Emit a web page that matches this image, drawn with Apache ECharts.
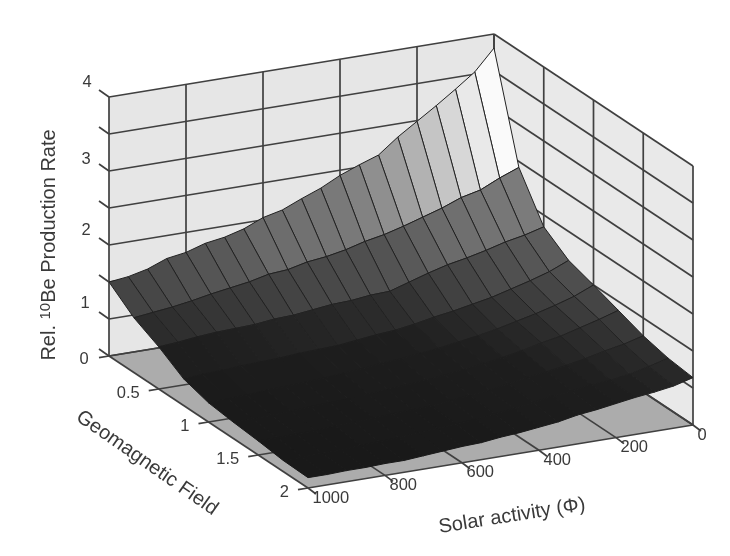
<!DOCTYPE html>
<html><head><meta charset="utf-8">
<style>html,body{margin:0;padding:0;background:#fff}#c{width:730px;height:556px;filter:blur(0.5px)}</style>
<script src="https://cdn.jsdelivr.net/npm/echarts@6/dist/echarts.min.js"></script>
</head><body><div id="c"></div>
<script>
// Solar activity, from the back wall (0) to the front (1000)
const phiMesh = [0,50,100,150,200,250,300,350,400,450,500,550,600,650,700,750,800,850,900,950,1000];
// Geomagnetic field, from the back wall (0) to the front (2)
const fieldMesh = [0,0.25,0.5,0.75,1,1.25,1.5,1.75,2];
// Surface values, one list per field value, listed from Phi = 1000 down to Phi = 0
const rateAtField0    = [1.50,1.53,1.59,1.69,1.73,1.81,1.85,1.92,2.03,2.09,2.20,2.30,2.43,2.53,2.62,2.82,2.99,3.16,3.34,3.53,3.81];
const rateAtField025  = [1.24,1.27,1.30,1.34,1.39,1.43,1.47,1.53,1.55,1.61,1.64,1.69,1.76,1.81,1.88,1.96,2.04,2.14,2.20,2.32,2.42];
const rateAtField05   = [1.07,1.09,1.12,1.14,1.15,1.16,1.19,1.20,1.23,1.26,1.27,1.30,1.31,1.39,1.47,1.54,1.59,1.65,1.72,1.77,1.84];
const rateAtField075  = [0.86,0.88,0.89,0.91,0.92,0.93,0.95,0.96,0.97,1.00,1.03,1.05,1.09,1.14,1.18,1.23,1.28,1.35,1.42,1.50,1.61];
const rateAtField1    = [0.76,0.77,0.78,0.80,0.81,0.82,0.84,0.86,0.88,0.91,0.93,0.96,0.99,1.03,1.07,1.12,1.18,1.24,1.31,1.39,1.50];
const rateAtField125  = [0.72,0.72,0.73,0.74,0.76,0.77,0.78,0.80,0.82,0.84,0.86,0.89,0.92,0.96,1.00,1.05,1.11,1.16,1.23,1.30,1.38];
const rateAtField15   = [0.69,0.69,0.70,0.70,0.72,0.73,0.74,0.76,0.77,0.78,0.81,0.84,0.86,0.91,0.95,0.99,1.03,1.08,1.14,1.19,1.26];
const rateAtField175  = [0.65,0.65,0.66,0.66,0.68,0.69,0.70,0.73,0.74,0.76,0.78,0.81,0.84,0.88,0.92,0.95,0.99,1.01,1.05,1.11,1.18];
const rateAtField2    = [0.64,0.64,0.65,0.65,0.66,0.66,0.68,0.70,0.72,0.73,0.76,0.78,0.81,0.84,0.89,0.92,0.96,1.00,1.03,1.07,1.14];
const rateRows = [rateAtField0,rateAtField025,rateAtField05,rateAtField075,rateAtField1,rateAtField125,rateAtField15,rateAtField175,rateAtField2];
// Ticks
const phiTicks = [0,200,400,600,800,1000];
const phiTickLabels = ['0','200','400','600','800','1000'];
const fieldTicks = [0,0.5,1,1.5,2];
const fieldTickLabels = ['','0.5','1','1.5','2'];
const rateTicks = [0.5,1,1.5,2,2.5,3,3.5,4];
const rateLabelTexts = ['0','1','2','3','4'];
const titlePhi = 'Solar activity (\u03A6)';
const titleField = 'Geomagnetic Field';

// Oblique view of the box
const view = {A:[109,356],B:[308,488],C:[693,425],height:259};
const FONT = '"Liberation Sans",Arial,sans-serif';
const nm = echarts.number;
function proj(phi,g,z){
  const fp = nm.linearMap(phi,[1000,0],[0,1]);
  const fg = nm.linearMap(g,[0,2],[0,1]);
  const fz = nm.linearMap(z,[0.5,4],[0,1]);
  return [
    view.A[0]+fp*(view.C[0]-view.B[0])+fg*(view.B[0]-view.A[0]),
    view.A[1]+fp*(view.C[1]-view.B[1])+fg*(view.B[1]-view.A[1])-fz*view.height
  ];
}
// Grey ramp by mean height of a cell
const grayZ = [0.6,1.0,1.17,1.38,1.68,1.76,2.1,2.2,2.4,2.6,2.8,3.0];
const grayV = [0x18,0x1e,0x2c,0x44,0x5c,0x6a,0x7c,0x8e,0xaa,0xc8,0xe4,0xfa];
function gray(z){
  let i=0; while(i<grayZ.length-2 && z>grayZ[i+1]) i++;
  const v=Math.round(nm.linearMap(z,[grayZ[i],grayZ[i+1]],[grayV[i],grayV[i+1]],true));
  return 'rgb('+v+','+v+','+v+')';
}
const rate=(gi,pi)=>rateRows[gi][rateRows[gi].length-1-pi]; // pi indexes phiMesh

// Cells, back to front
const cells=[];
for(let gi=0;gi<fieldMesh.length-1;gi++) for(let pi=0;pi<phiMesh.length-1;pi++) cells.push([gi,pi]);

// Box: polygons and lines
const zMin=rateTicks[0], zMax=rateTicks[rateTicks.length-1];
const panes=[
  {pts:[[1000,0,zMin],[0,0,zMin],[0,0,zMax],[1000,0,zMax]],fill:'#e6e6e6'},
  {pts:[[0,0,zMin],[0,2,zMin],[0,2,zMax],[0,0,zMax]],fill:'#e9e9e9'},
  {pts:[[1000,0,zMin],[0,0,zMin],[0,2,zMin],[1000,2,zMin]],fill:'#acacac'}
];
const lines=[];
phiTicks.forEach(p=>{
  lines.push([[p,0,zMin],[p,2,zMin]]);
  lines.push([[p,0,zMin],[p,0,zMax]]);
});
fieldTicks.forEach(g=>{
  lines.push([[1000,g,zMin],[0,g,zMin]]);
  lines.push([[0,g,zMin],[0,g,zMax]]);
});
rateTicks.forEach(z=>{
  lines.push([[1000,0,z],[0,0,z]]);
  lines.push([[0,0,z],[0,2,z]]);
});

const toPix=(api,p)=>api.coord(proj(p[0],p[1],p[2]));

const texts=[];
phiTicks.forEach((p,i)=>texts.push({t:phiTickLabels[i],at:[p,2,zMin],dx:4.5,dy:10,align:'left'}));
fieldTicks.forEach((g,i)=>{ if(fieldTickLabels[i]) texts.push({t:fieldTickLabels[i],at:[1000,g,zMin],dx:-19,dy:4,align:'right'}); });
texts.push({t:rateLabelTexts[4],at:[1000,0,4],dx:-22,dy:-15,align:'center'});
texts.push({t:rateLabelTexts[3],at:[1000,0,3],dx:-23,dy:-12,align:'center'});
texts.push({t:rateLabelTexts[2],at:[1000,0,2],dx:-23,dy:-15,align:'center'});
texts.push({t:rateLabelTexts[1],at:[1000,0,1],dx:-24,dy:-16,align:'center'});
texts.push({t:rateLabelTexts[0],at:[1000,0,zMin],dx:-25,dy:3,align:'center'});

const ticks=[];
phiTicks.forEach(p=>ticks.push({at:[p,2,zMin],d:[8,6]}));
fieldTicks.forEach(g=>ticks.push({at:[1000,g,zMin],d:[-10,1.6]}));
rateTicks.forEach(z=>ticks.push({at:[1000,0,z],d:[-10,-7]}));

const option={
  animation:false,
  backgroundColor:'#ffffff',
  grid:{left:0,right:0,top:0,bottom:0},
  xAxis:{type:'value',min:0,max:730,show:false},
  yAxis:{type:'value',min:0,max:556,inverse:true,show:false},
  series:[
    {type:'custom',silent:true,clip:false,z:1,data:panes.map((_,i)=>[i]),
     renderItem:(params,api)=>{const p=panes[api.value(0)];
       return {type:'polygon',shape:{points:p.pts.map(q=>toPix(api,q))},style:{fill:p.fill,stroke:null}};}},
    {type:'custom',silent:true,clip:false,z:2,data:lines.map((_,i)=>[i]),
     renderItem:(params,api)=>{const l=lines[api.value(0)];const a=toPix(api,l[0]),b=toPix(api,l[1]);
       return {type:'line',shape:{x1:a[0],y1:a[1],x2:b[0],y2:b[1]},style:{stroke:'#404040',lineWidth:1.7}};}},
    {type:'custom',silent:true,clip:false,z:3,data:ticks.map((_,i)=>[i]),
     renderItem:(params,api)=>{const t=ticks[api.value(0)];const a=toPix(api,t.at);
       return {type:'line',shape:{x1:a[0],y1:a[1],x2:a[0]+t.d[0],y2:a[1]+t.d[1]},style:{stroke:'#404040',lineWidth:1.7}};}},
    {type:'custom',silent:true,clip:false,z:4,data:cells,
     renderItem:(params,api)=>{
       const gi=api.value(0),pi=api.value(1);
       const c=[[gi,pi],[gi,pi+1],[gi+1,pi+1],[gi+1,pi]];
       let s=0; const pts=c.map(q=>{const z=rate(q[0],q[1]);s+=z;return api.coord(proj(phiMesh[q[1]],fieldMesh[q[0]],z));});
       const mean=s/4;
       return {type:'polygon',shape:{points:pts},style:{fill:gray(mean),stroke:mean<1.05?gray(mean):'#222222',lineWidth:1}};
     }},
    {type:'custom',silent:true,clip:false,z:5,data:texts.map((_,i)=>[i]),
     renderItem:(params,api)=>{const t=texts[api.value(0)];const a=toPix(api,t.at);
       return {type:'text',x:a[0]+t.dx,y:a[1]+t.dy,style:{text:t.t,fill:'#3a3a3a',font:'16.5px '+FONT,textAlign:t.align,textVerticalAlign:'middle'}};}}
  ],
  graphic:[
    {type:'text',x:512,y:516,rotation:9*Math.PI/180,silent:true,z:6,
     style:{text:titlePhi,fill:'#3a3a3a',font:'20px '+FONT,textAlign:'center',textVerticalAlign:'middle'}},
    {type:'text',x:147,y:463,rotation:-35*Math.PI/180,silent:true,z:6,
     style:{text:titleField,fill:'#3a3a3a',font:'20px '+FONT,textAlign:'center',textVerticalAlign:'middle'}},
    {type:'text',x:49,y:245,rotation:Math.PI/2,silent:true,z:6,
     style:{fill:'#3a3a3a',textAlign:'center',textVerticalAlign:'middle',font:'20px '+FONT,
       text:'Rel. {s|10}Be Production Rate',
       rich:{s:{fontSize:15,fontFamily:'Liberation Sans',fill:'#3a3a3a',verticalAlign:'top',lineHeight:22}}}}
  ]
};
const chart=echarts.init(document.getElementById('c'),null,{renderer:'canvas'});
chart.setOption(option);
</script></body></html>
